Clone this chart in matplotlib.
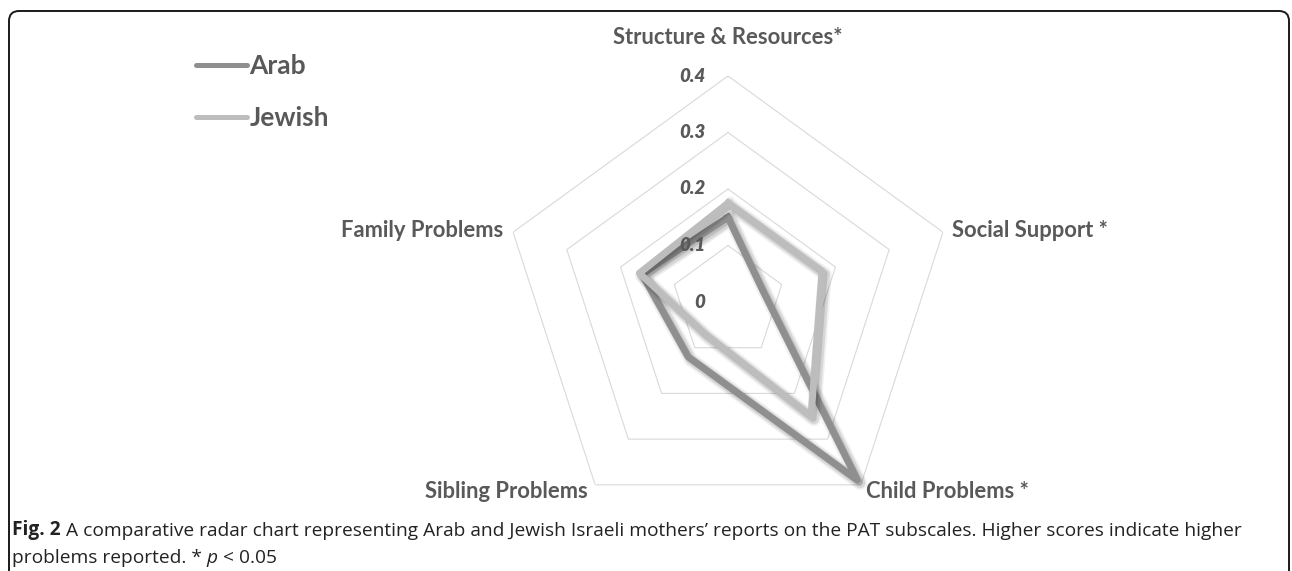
import numpy as np
import matplotlib
matplotlib.use("Agg")
import matplotlib.pyplot as plt
import matplotlib.patheffects as pe
from matplotlib.patches import FancyBboxPatch
from matplotlib.lines import Line2D
from matplotlib.text import Annotation
from matplotlib.transforms import IdentityTransform

# datos del radar
categories = ["Structure & Resources*", "Social Support *", "Child Problems *",
              "Sibling Problems", "Family Problems"]
arab = [0.15, 0.065, 0.39, 0.12, 0.16]
jewish = [0.175, 0.175, 0.25, 0.07, 0.165]
levels = [0.1, 0.2, 0.3, 0.4]
tick_labels = ["0", "0.1", "0.2", "0.3", "0.4"]
tick_values = [0, 0.1, 0.2, 0.3, 0.4]

W, H = 1292, 571
fig = plt.figure(figsize=(W / 100, H / 100), dpi=100)

# marco redondeado (se sale por abajo)
frame = FancyBboxPatch((9, -30), 1280, H - 11 + 30, boxstyle="round,pad=0,rounding_size=10",
                       transform=IdentityTransform(), fill=False, ec="#1a1a1a", lw=1.4)
fig.patches.append(frame)

cx, cy, R = 728, H - 302, 226
ax = fig.add_axes([(cx - R) / W, (cy - R) / H, 2 * R / W, 2 * R / H], projection="polar")
ax.set_theta_offset(np.pi / 2)
ax.set_theta_direction(-1)
ax.set_ylim(0, 0.4)
ax.grid(False)
ax.set_xticks([])
ax.set_yticks([])
ax.spines["polar"].set_visible(False)
ax.patch.set_visible(False)

n = len(categories)
angles = np.linspace(0, 2 * np.pi, n, endpoint=False)
closed = np.concatenate([angles, angles[:1]])

for lv in levels:
    ax.plot(closed, [lv] * (n + 1), color="#d9d9d9", lw=0.8, zorder=1)

lw = 5.0
def shadow():
    return [pe.SimpleLineShadow(offset=(2, -2), shadow_color="k", alpha=0.06, linewidth=lw + 5),
            pe.SimpleLineShadow(offset=(2, -2), shadow_color="k", alpha=0.10, linewidth=lw + 2.5),
            pe.SimpleLineShadow(offset=(1.5, -1.5), shadow_color="k", alpha=0.12, linewidth=lw),
            pe.Normal()]

ax.plot(closed, arab + arab[:1], color="#8f8f8f", lw=lw, solid_joinstyle="round",
        path_effects=shadow(), zorder=3, clip_on=False)
ax.plot(closed, jewish + jewish[:1], color="#bdbdbd", lw=lw, solid_joinstyle="round",
        path_effects=shadow(), zorder=4, clip_on=False)

# etiquetas del eje radial
for v, t in zip(tick_values, tick_labels):
    ax.annotate(t, xy=(0, v), xytext=(-16.5, 0), textcoords="offset points",
                ha="right", va="center", fontsize=13.5, fontweight="heavy", fontstyle="italic",
                color="#595959", family="Lato", zorder=5)

# etiquetas de categorias
lab_kw = dict(fontsize=15.8, fontweight="bold", color="#595959", family="Lato")
offs = [((0, 27.5), "center"),
        ((6.5, 1.5), "left"),
        ((4, -4.5), "left"),
        ((-5, -4.5), "right"),
        ((-7, 1.5), "right")]
for a, c, (o, ha) in zip(angles, categories, offs):
    ax.annotate(c, xy=(a, 0.4), xytext=o, textcoords="offset points", ha=ha, va="center",
                annotation_clip=False, **lab_kw)

# leyenda
handles = [Line2D([], [], color="#8f8f8f", lw=3.6, solid_capstyle="round"),
           Line2D([], [], color="#bdbdbd", lw=3.6, solid_capstyle="round")]
leg = fig.legend(handles, ["Arab", "Jewish"], loc="upper left",
                 bbox_to_anchor=(196 / W, 1 - 54 / H), frameon=False,
                 handlelength=1.95, handletextpad=0.08, labelspacing=1.08,
                 prop=dict(family="Lato", weight="bold", size=19), borderpad=0, borderaxespad=0)
for t in leg.get_texts():
    t.set_color("#595959")

# pie de figura
cap_kw = dict(fontsize=13.8, color="#222222", family="Open Sans", va="bottom")
t1 = fig.text(12 / W, 1 - 540 / H, "Fig. 2", fontweight="bold", **cap_kw)
fig.add_artist(Annotation(
    " A comparative radar chart representing Arab and Jewish Israeli mothers\u2019 reports on the "
    "PAT subscales. Higher scores indicate higher", xy=(1, 0), xycoords=t1, **cap_kw))
t3 = fig.text(12 / W, 1 - 567 / H, "problems reported. * ", **cap_kw)
t4 = fig.add_artist(Annotation("p", xy=(1, 0), xycoords=t3, fontstyle="italic", **cap_kw))
fig.add_artist(Annotation(" < 0.05", xy=(1, 0), xycoords=t4, **cap_kw))

fig.savefig("out.png", dpi=100)
